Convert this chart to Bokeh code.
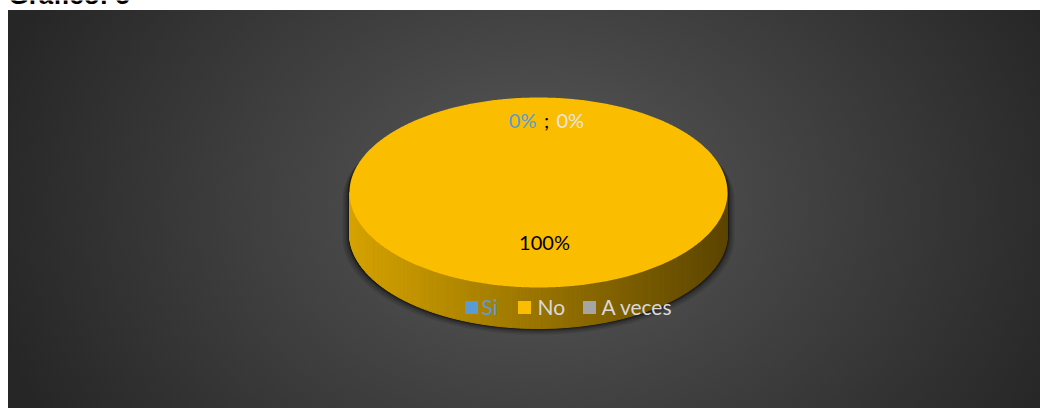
import numpy as np
from bokeh.plotting import figure
from bokeh.models import Range1d, InlineStyleSheet
from bokeh.core.properties import value
from bokeh.embed import file_html
from bokeh.resources import INLINE

# ---- data ----
categories = ["Si", "No", "A veces"]
values = [0, 100, 0]
slice_colors = ["#5b9bd5", "#fbbd00", "#a5a5a5"]
legend_text_colors = ["#5b9bd5", "#d9d9d9", "#d9d9d9"]
label_colors = ["#5b9bd5", "#000000", "#e6e6e6"]
title_text = "Gráfico: 5"

# ---- layout constants (px, y downwards) ----
W, H = 1040, 408
CX, CY, RX, RY, DEPTH = 538, 192, 189, 95, 41
FONT = "Lato"

css = InlineStyleSheet(css="""
:host {
  background:
    linear-gradient(#ffffff, #ffffff) 0 0 / 100% 10px no-repeat,
    linear-gradient(#ffffff, #ffffff) 0 0 / 8px 100% no-repeat,
    radial-gradient(ellipse 570px 430px at 540px 205px, #5b5b5b 0%, #474747 35%, #262626 100%);
}
""")

p = figure(width=W, height=H, output_backend="svg", toolbar_location=None,
           x_range=Range1d(0, W), y_range=Range1d(H, 0),
           min_border=0, stylesheets=[css])
p.axis.visible = False
p.grid.visible = False
p.outline_line_color = None
p.background_fill_alpha = 0
p.border_fill_alpha = 0

total = float(sum(values))
fracs = [v / total for v in values]
starts = np.cumsum([0.0] + fracs[:-1]) * 2 * np.pi
ends = starts + np.array(fracs) * 2 * np.pi


def ex(t):
    return CX + RX * np.sin(t)


def ey(t):
    return CY - RY * np.cos(t)


# ---- shadow (silhouette of the pie, offset downwards) ----
tt_up = np.linspace(-np.pi / 2, np.pi / 2, 120)
tt_dn = np.linspace(np.pi / 2, 3 * np.pi / 2, 120)
for grow, a in [(7, 0.10), (5, 0.14), (3, 0.22), (1.5, 0.35)]:
    sx = list(CX + (RX + grow) * np.sin(tt_up)) + list(CX + (RX + grow) * np.sin(tt_dn))
    sy = list(CY + grow - (RY - 2) * np.cos(tt_up)) + list(CY + DEPTH + grow * 0.6 - (RY + grow * 0.3) * np.cos(tt_dn))
    p.patch(sx, sy, fill_color="black", fill_alpha=a, line_color=None)

# ---- side walls ----
c_left = np.array([0xd6, 0xa3, 0x00], float)
c_right = np.array([0x5c, 0x45, 0x00], float)
side_xs, side_ys, side_cols = [], [], []
for a0, a1 in zip(starts, ends):
    lo, hi = max(a0, np.pi / 2), min(a1, 3 * np.pi / 2)
    if hi <= lo:
        continue
    n = max(2, int((hi - lo) / np.radians(1.0)) + 1)
    ts = np.linspace(lo, hi, n)
    for t0, t1 in zip(ts[:-1], ts[1:]):
        x0, x1 = ex(t0), ex(t1)
        y0, y1 = ey(t0), ey(t1)
        side_xs.append([x0, x1, x1, x0])
        side_ys.append([y0, y1, y1 + DEPTH, y0 + DEPTH])
        f = ((x0 + x1) / 2 - (CX - RX)) / (2 * RX)
        f = min(max(f, 0), 1)
        c = c_left * (1 - f) + c_right * f
        side_cols.append("#%02x%02x%02x" % tuple(int(round(v)) for v in c))
if side_xs:
    p.patches(side_xs, side_ys, fill_color=side_cols, line_color=side_cols, line_width=1)

# ---- top faces ----
top_xs, top_ys = [], []
for a0, a1 in zip(starts, ends):
    n = max(2, int((a1 - a0) / np.radians(0.5)) + 1)
    ts = np.linspace(a0, a1, n)
    if a1 - a0 >= 2 * np.pi - 1e-9:
        top_xs.append(list(ex(ts)))
        top_ys.append(list(ey(ts)))
    else:
        top_xs.append([CX] + list(ex(ts)) + [CX])
        top_ys.append([CY] + list(ey(ts)) + [CY])
p.patches(top_xs, top_ys, fill_color=slice_colors, line_color=None)

# ---- data labels ----
pct = ["%d%%" % round(f * 100) for f in fracs]
lab = dict(text_baseline="middle", text_font=value(FONT), text_font_size="20px")
p.text(x=[CX + 6], y=[CY + 49], text=[pct[1]], text_align="center",
       text_color=label_colors[1], **lab)
p.text(x=[CX - 2], y=[CY - 73], text=[pct[0]], text_align="right",
       text_color=label_colors[0], **lab)
p.text(x=[CX + 8], y=[CY - 73], text=[";"], text_align="center",
       text_color="#000000", **lab)
p.text(x=[CX + 18], y=[CY - 73], text=[pct[2]], text_align="left",
       text_color=label_colors[2], **lab)

# ---- legend ----
sq_x = [471, 524, 589]
tx_x = [481, 537, 601]
p.rect(x=sq_x, y=[307] * 3, width=13, height=13, width_units="screen",
       height_units="screen", fill_color=slice_colors, line_color=None)
p.text(x=tx_x, y=[305.5] * 3, text=categories, text_align="left",
       text_baseline="middle", text_font=value(FONT), text_font_size="21px",
       text_color=legend_text_colors)

# ---- title (cut off at the top, as in the reference) ----
p.text(x=[8], y=[-6], text=[title_text], text_align="left", text_baseline="middle",
       text_font=value("Liberation Sans"), text_font_style="bold", text_font_size="26px",
       text_color="#000000")

open("out.html", "w").write(file_html(p, INLINE))
